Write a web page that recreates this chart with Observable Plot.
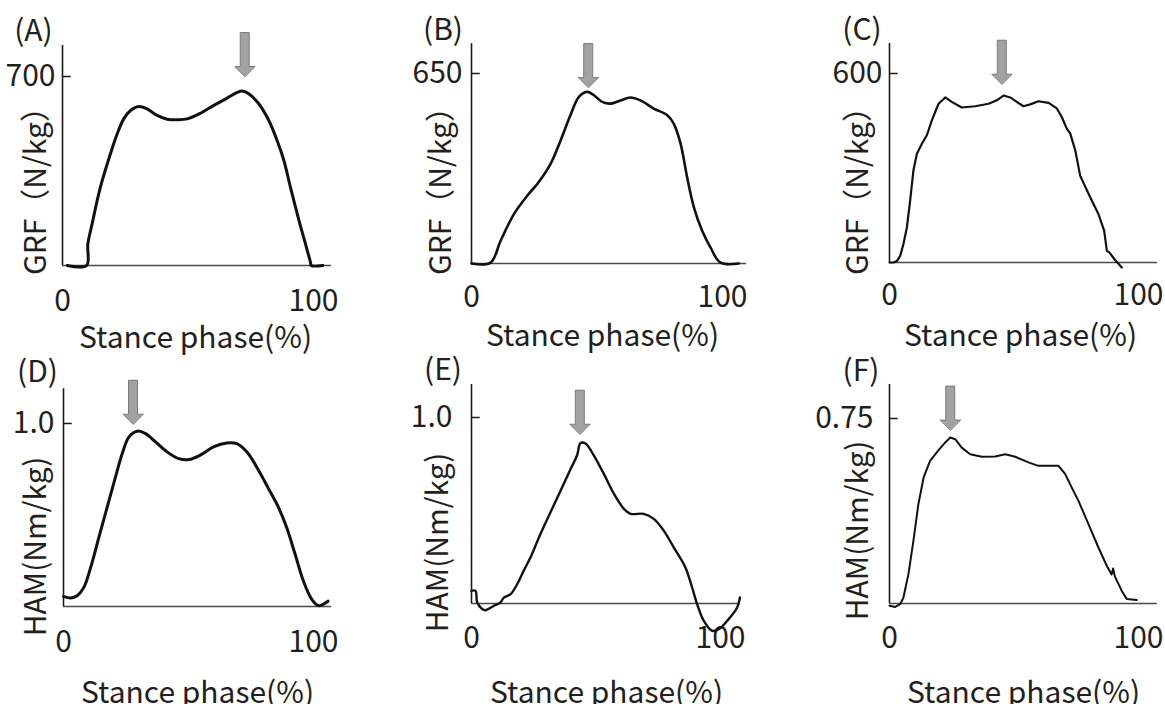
<!DOCTYPE html>
<html>
<head>
<meta charset="utf-8">
<script src="https://cdn.jsdelivr.net/npm/d3@7"></script>
<script src="https://cdn.jsdelivr.net/npm/@observablehq/plot@0.6"></script>
<style>
  body { margin: 0; background: #fff; }
  #fig { position: relative; width: 1165px; height: 704px; background: #fff; overflow: hidden; }
</style>
</head>
<body>
<div id="fig"></div>
<script>
// ---------- data (stance phase %, value) ----------
const stanceA = [1.9, 9.6, 10.1, 11.8, 15.1, 19.1, 21.8, 24.4, 27.1, 30.4, 33.7, 37.7, 41.7, 45.7, 49.7, 55, 60.3, 65.6, 69.6, 71.6, 74.2, 78.2, 82.2, 85.5, 88.2, 90.8, 94.2, 96.8, 98.8, 99.1, 103.7];
const grfA    = [0, 0, 80, 154, 290, 414, 488, 543, 574, 589, 580, 556, 542, 540, 543, 564, 593, 620, 641, 646, 636, 599, 537, 463, 389, 290, 167, 80, 12, 0, 0];

const stanceB = [0, 7.6, 11.6, 16.9, 22.2, 26.2, 31.5, 35.5, 39.4, 42.8, 46.1, 48.7, 52.1, 55.4, 59.4, 63.3, 67.3, 72.6, 78, 80.6, 83.3, 85.9, 88.6, 91.9, 95.2, 99.2, 106.5];
const grfB    = [0, 3, 78, 169, 232, 272, 341, 421, 507, 570, 587, 576, 553, 547, 558, 568, 558, 530, 507, 478, 410, 295, 192, 112, 55, 3, 0];

const stanceC = [0, 1.6, 3, 4.3, 5.6, 7, 8.3, 9.6, 11, 13, 15, 17, 19.7, 22.4, 25, 29, 34.4, 39.8, 43.1, 45.8, 48.5, 51.1, 53.8, 56.5, 59.8, 63.9, 67.2, 69.2, 71.2, 72.6, 74.6, 76.6, 80.6, 83.9, 86.2, 87.3, 88.3, 90.6, 93.3];
const grfC    = [0, 0, 5, 21, 59, 112, 197, 292, 345, 377, 404, 451, 504, 524, 510, 492, 496, 504, 515, 530, 524, 510, 496, 502, 512, 507, 489, 462, 425, 409, 356, 275, 207, 154, 101, 37, 32, 8, -16];

const stanceD = [0, 2.9, 5.6, 8.2, 10.9, 14.2, 17.5, 20.8, 23.5, 26.2, 29.5, 32.8, 36.8, 41.4, 46.1, 50.1, 54.7, 60, 65.3, 69.3, 73.3, 78, 82, 85.9, 89.2, 92.6, 95.9, 99.2, 101.9, 105.8];
const hamD    = [0.055, 0.046, 0.06, 0.106, 0.215, 0.38, 0.544, 0.708, 0.836, 0.927, 0.958, 0.945, 0.9, 0.845, 0.808, 0.803, 0.827, 0.872, 0.894, 0.89, 0.845, 0.745, 0.644, 0.544, 0.434, 0.288, 0.142, 0.042, 0.005, 0.029];

const stanceE = [0, 1.6, 2.3, 4.3, 5.6, 9, 11.6, 13, 15.7, 18.4, 21, 23.7, 27.7, 34.4, 39.8, 42.4, 43.8, 45.8, 49.1, 53.1, 57.2, 61.2, 63.9, 69.2, 73.2, 77.2, 81.2, 85.9, 88.6, 90.6, 93.3, 96.7, 99.3, 102.7, 106.7, 107.8];
const hamE    = [0.068, 0.068, 0.005, -0.03, -0.036, -0.012, 0.005, 0.032, 0.05, 0.105, 0.177, 0.248, 0.374, 0.567, 0.723, 0.797, 0.863, 0.86, 0.797, 0.698, 0.59, 0.509, 0.482, 0.482, 0.455, 0.392, 0.302, 0.194, 0.086, -0.003, -0.093, -0.147, -0.138, -0.093, -0.022, 0.032];

const stanceF = [0, 2.3, 4.3, 5.6, 7.6, 9.6, 11.6, 13.7, 16.3, 19.7, 22.4, 24.4, 26.4, 29, 32.4, 37.1, 42.4, 46.5, 50.5, 55.8, 59.8, 67.9, 70.6, 73.2, 75.9, 79.9, 83.9, 87.4, 89.2, 89.8, 90.5, 93.3, 95.3, 99.3];
const hamF    = [-0.009, -0.014, -0.003, 0.024, 0.119, 0.254, 0.403, 0.511, 0.578, 0.622, 0.653, 0.673, 0.666, 0.632, 0.605, 0.595, 0.596, 0.605, 0.595, 0.572, 0.558, 0.558, 0.524, 0.47, 0.416, 0.322, 0.227, 0.15, 0.118, 0.142, 0.11, 0.051, 0.018, 0.014];

// axis ticks and labels
const panelNames   = ["(A)", "(B)", "(C)", "(D)", "(E)", "(F)"];
const yLabels      = ["GRF（N/kg）", "GRF（N/kg）", "GRF（N/kg）", "HAM(Nm/kg)", "HAM(Nm/kg)", "HAM(Nm/kg)"];
const xLabel       = "Stance phase(%)";
const xTicks       = [0, 100];
const yTicks       = [700, 650, 600, 1.0, 1.0, 0.75];
const yTickLabels  = ["700", "650", "600", "1.0", "1.0", "0.75"];
const xAxisEnd     = [107.2, 109.6, 107.6, 107.2, 107.2, 107.6];
const yAxisTop     = [815, 752, 695, 1.19, 1.177, 0.888];
// peak arrows (x position, value at arrow tip)
const arrowX       = [72.6, 46.5, 45.1, 27.8, 43.5, 24.4];
const arrowTip     = [700, 602, 566, 0.996, 0.91, 0.703];

const series = [
  [stanceA, grfA], [stanceB, grfB], [stanceC, grfC],
  [stanceD, hamD], [stanceE, hamE], [stanceF, hamF]
];

// ---------- layout (pixels) ----------
const layout = [
  {left: 0,   top: 0,   width: 390, height: 352, x0: 62,  x100: 313, y0: 265, yT: 76, lab: [33, 31],   yl: [36, 183],  xl: [195, 338], tg: 7,  xdy: 36, sw: 3.0, curve: "catmull-rom"},
  {left: 390, top: 0,   width: 390, height: 352, x0: 81,  x100: 332, y0: 263, yT: 73, lab: [52.5, 30], yl: [51, 183],  xl: [212, 336], tg: 9,  xdy: 34, sw: 2.6, curve: "catmull-rom"},
  {left: 780, top: 0,   width: 385, height: 352, x0: 109, x100: 358, y0: 262, yT: 73, lab: [81.5, 30], yl: [78, 183],  xl: [240, 336], tg: 7,  xdy: 33, sw: 2.2, curve: "linear"},
  {left: 0,   top: 352, width: 390, height: 352, x0: 63,  x100: 313, y0: 254, yT: 71, lab: [37, 20],   yl: [36, 194],  xl: [197, 341], tg: 9,  xdy: 36, sw: 3.0, curve: "catmull-rom"},
  {left: 390, top: 352, width: 390, height: 352, x0: 81,  x100: 330, y0: 251, yT: 65, lab: [52.5, 18], yl: [48, 190],  xl: [216, 341], tg: 19, xdy: 35, sw: 2.4, curve: "catmull-rom"},
  {left: 780, top: 352, width: 385, height: 352, x0: 109, x100: 358, y0: 251, yT: 66, lab: [80.5, 19], yl: [78, 178],  xl: [243, 341], tg: 16, xdy: 35, sw: 2.0, curve: "linear"}
];

const FONT = "'Noto Sans CJK JP', 'Noto Sans', sans-serif";
const INK = "#231f20";

// block arrow shape for the vector mark (drawn pointing up, tip at (0,-l))
const blockArrow = {
  draw(ctx, l) {
    const hw = 10, sw = 4.5, hh = 10;
    ctx.moveTo(0, -l);
    ctx.lineTo(hw, -l + hh);
    ctx.lineTo(sw, -l + hh);
    ctx.lineTo(sw, 0);
    ctx.lineTo(-sw, 0);
    ctx.lineTo(-sw, -l + hh);
    ctx.lineTo(-hw, -l + hh);
    ctx.closePath();
  }
};

const fig = document.getElementById("fig");

series.forEach(([xs, ys], i) => {
  const L = layout[i];
  const data = xs.map((x, j) => ({x, y: ys[j]}));
  const at = (p) => ({frameAnchor: "top-left", dx: p[0] - L.x0, dy: p[1] - L.yT, textAnchor: "middle", lineAnchor: "middle"});
  const chart = Plot.plot({
    width: L.width,
    height: L.height,
    marginLeft: L.x0,
    marginRight: L.width - L.x100,
    marginTop: L.yT,
    marginBottom: L.height - L.y0,
    x: {domain: [0, 100], axis: null},
    y: {domain: [0, yTicks[i]], axis: null},
    style: {fontFamily: FONT, color: INK, background: "transparent", overflow: "visible"},
    marks: [
      // axes
      Plot.ruleY([0], {x1: 0, x2: xAxisEnd[i], stroke: "#4a4a4a", strokeWidth: 1.4}),
      Plot.ruleX([0], {y1: 0, y2: yAxisTop[i], stroke: "#1a1a1a", strokeWidth: 1.6}),
      Plot.ruleY([yTicks[i]], {x1: 0, x2: 3.5, stroke: "#1a1a1a", strokeWidth: 1.5}),
      Plot.text([yTicks[i]], {x: 0, y: (d) => d, text: () => yTickLabels[i], dx: -L.tg, textAnchor: "end", fontSize: 30, fill: INK}),
      Plot.text(xTicks, {x: (d) => d, y: 0, text: (d) => String(d), dy: L.xdy, fontSize: 30, fill: INK}),
      // data
      Plot.line(data, {x: "x", y: "y", curve: L.curve, stroke: "#111", strokeWidth: L.sw, strokeLinejoin: "round"}),
      // peak arrow
      Plot.vector([{x: arrowX[i], y: arrowTip[i]}], {x: "x", y: "y", length: 44, rotate: 180, anchor: "end", shape: blockArrow, fill: "#a2a2a2", stroke: "#7a7a7a", strokeWidth: 1, strokeLinejoin: "miter"}),
      // labels
      Plot.text([panelNames[i]], {text: (d) => d, ...at(L.lab), fontSize: 30, fill: INK}),
      Plot.text([yLabels[i]], {text: (d) => d, ...at(L.yl), rotate: -90, fontSize: 30, fill: INK}),
      Plot.text([xLabel], {text: (d) => d, ...at(L.xl), fontSize: 30, fill: INK, letterSpacing: "1px"})
    ]
  });
  chart.style.position = "absolute";
  chart.style.left = L.left + "px";
  chart.style.top = L.top + "px";
  fig.appendChild(chart);
});
</script>
</body>
</html>
